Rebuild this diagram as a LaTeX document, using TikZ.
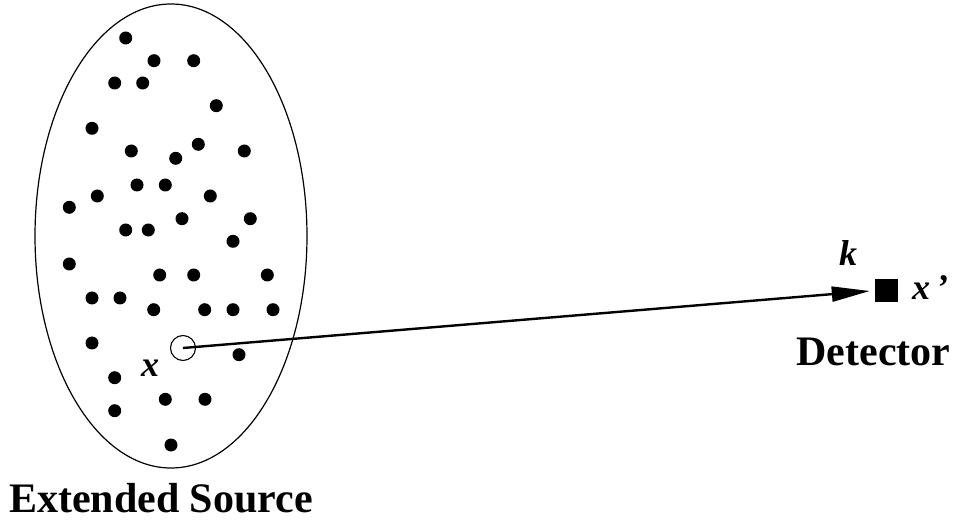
\documentclass[tikz,border=0pt]{standalone}
\usepackage{fontspec}
\setmainfont{Liberation Serif}[BoldFont={Liberation Serif Bold},ItalicFont={Liberation Serif Italic},BoldItalicFont={Liberation Serif Bold Italic}]
\usetikzlibrary{arrows.meta,shapes.geometric}
\begin{document}
\begin{tikzpicture}[x=1pt,y=-1pt,
  dotnode/.style={circle,fill=black,inner sep=0pt,minimum size=13pt},
  srcnode/.style={circle,draw=black,line width=1.1pt,inner sep=0pt,minimum size=25pt},
  detnode/.style={rectangle,fill=black,inner sep=0pt,minimum size=23pt},
  biglabel/.style={inner sep=0pt,font=\fontsize{42}{50}\selectfont\bfseries},
  itlabel/.style={inner sep=0pt,font=\fontsize{36}{42}\selectfont\bfseries\itshape},
  ray/.style={line width=2.4pt,-{Triangle[length=38pt,width=15pt]}}]
\useasboundingbox (0,0) rectangle (956,521);
\node[ellipse,draw=black,line width=1.2pt,minimum width=272pt,minimum height=464pt,inner sep=0pt] (src) at (171,236) {};
\foreach \px/\py [count=\i] in {125.7/38,154/60.7,193.7/60.7,114.7/83,142.7/83,216.3/105.7,92/128.3,131.3/151,198.3/144.3,175.7/158.3,244.3/151,137/185,165.3/185,97.3/196,210.3/196,69.3/207.3,182/218.7,250.3/218.7,125.7/230,148.3/230,233/241.3,69.3/264,159.7/275,193.7/275,267.3/275,92/298,120/298,153.7/309.7,204.7/309.7,233/309.7,273/309.7,92/343,239/354.7,114.7/377.7,165.3/399.3,205/399.3,114.7/410.7,171/445}
  \node[dotnode] (d\i) at (\px,\py) {};
\node[srcnode] (pt) at (183,348) {};
\node[detnode] (det) at (886.5,291) {};
\draw[ray] (pt.center) -- ([xshift=-5pt]det.west);
\node[itlabel,anchor=base] (xl) at (150,377) {x};
\node[itlabel,anchor=base west] (kl) at (839,266) {k};
\node[itlabel,anchor=base west] (xpl) at (912,300) {x\,'};
\node[biglabel,anchor=base] (detl) at (873.5,365) {Detector};
\node[biglabel,anchor=base] (srcl) at (161,512) {Extended Source};
\end{tikzpicture}
\end{document}
